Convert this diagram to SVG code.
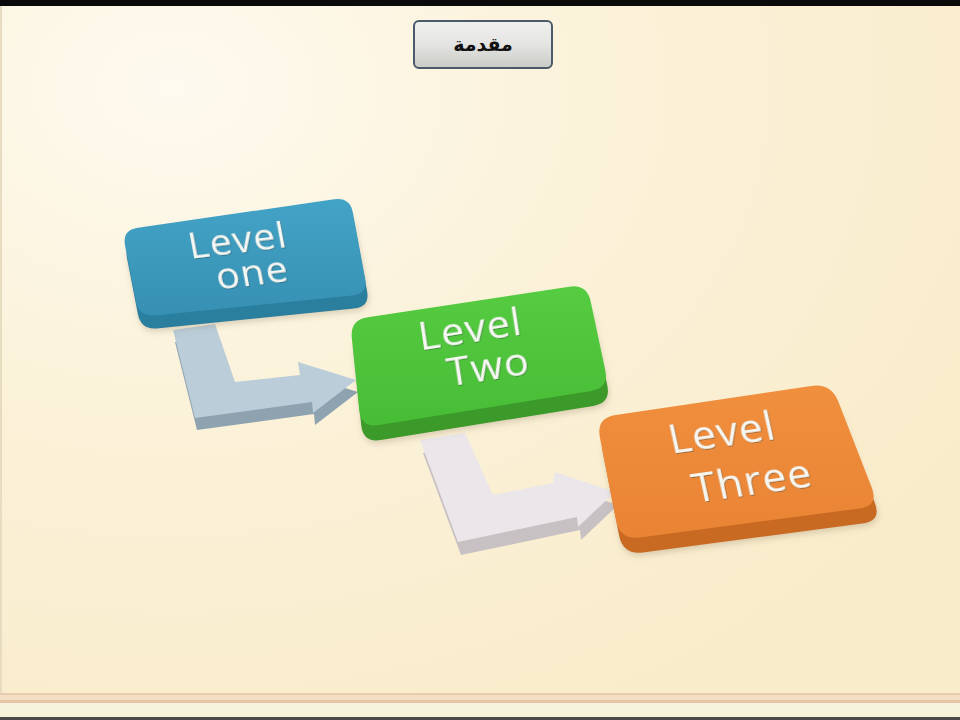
<svg xmlns="http://www.w3.org/2000/svg" width="960" height="720" viewBox="0 0 960 720">
<defs>
<radialGradient id="bg" cx="0.18" cy="0.12" r="0.95">
<stop offset="0" stop-color="#FEFAEF"/>
<stop offset="0.45" stop-color="#FBF2DA"/>
<stop offset="1" stop-color="#F9ECCB"/>
</radialGradient>
<linearGradient id="btn" x1="0" y1="0" x2="0" y2="1">
<stop offset="0" stop-color="#F0F0EE"/>
<stop offset="0.5" stop-color="#E4E4E2"/>
<stop offset="1" stop-color="#CACAC6"/>
</linearGradient>
<linearGradient id="gBlue" x1="0" y1="0" x2="0" y2="1">
<stop offset="0" stop-color="#43A3C6"/>
<stop offset="1" stop-color="#3690B3"/>
</linearGradient>
<linearGradient id="gGreen" x1="0" y1="0" x2="0" y2="1">
<stop offset="0" stop-color="#56CC42"/>
<stop offset="1" stop-color="#47BC35"/>
</linearGradient>
<linearGradient id="gOrange" x1="0" y1="0" x2="0" y2="1">
<stop offset="0" stop-color="#F08F3E"/>
<stop offset="1" stop-color="#E98434"/>
</linearGradient>
<filter id="ts" x="-20%" y="-20%" width="140%" height="140%">
<feDropShadow dx="0.6" dy="0.8" stdDeviation="0.6" flood-color="#2A3A3A" flood-opacity="0.55"/>
</filter>
<filter id="bs" x="-10%" y="-10%" width="120%" height="130%">
<feDropShadow dx="1" dy="3" stdDeviation="3" flood-color="#8A7A5A" flood-opacity="0.3"/>
</filter>
</defs>
<style>
.lbl{font-family:"Open Sans","DejaVu Sans",sans-serif;fill:#F6F7F3;text-anchor:middle;letter-spacing:1px}
.ttl{font-family:"DejaVu Sans","Noto Sans",sans-serif;font-weight:bold;font-size:19px;fill:#111;text-anchor:middle}
</style>
<rect x="0" y="0" width="960" height="720" fill="url(#bg)"/>
<rect x="0" y="0" width="960" height="6" fill="#0A0A0A"/>
<rect x="0" y="693" width="960" height="2" fill="#E6CDAE"/>
<rect x="0" y="695" width="960" height="5" fill="#F4DFC4"/>
<rect x="0" y="700" width="960" height="3" fill="#E3C7A6"/>
<rect x="0" y="703" width="960" height="14" fill="#F6F4DA"/>
<rect x="0" y="717" width="960" height="3" fill="#4A4A48"/>
<rect x="0" y="6" width="2" height="687" fill="#E8DCC0"/>

<g id="title">
<rect x="414" y="21" width="138" height="47" rx="5" fill="url(#btn)" stroke="#4A5A6A" stroke-width="2"/>
<text class="ttl" x="483" y="51">مقدمة</text>
</g>

<g id="connectors">
<g id="arrow-1-2">
<path d="M173,330 L215,324 L235,382 L300,375 L298,362 L356,380 L313,413 L312,402 L195,418 Z" transform="translate(2,12)" fill="#8EA2AF"/>
<path d="M173,330 L215,324 L235,382 L300,375 L298,362 L356,380 L313,413 L312,402 L195,418 Z" fill="#BACDD9"/>
</g>
<g id="arrow-2-3">
<path d="M420,440 L465,433 L493,495 L553,483 L555,472 L615,492 L578,527 L577,517 L458,542 Z" transform="translate(3,13)" fill="#C7C1C4"/>
<path d="M420,440 L465,433 L493,495 L553,483 L555,472 L615,492 L578,527 L577,517 L458,542 Z" fill="#EAE6E9"/>
</g>
</g>

<g id="node-level-one">
<path d="M137.9,227.7 L334.1,199.3 Q350,197 352.9,212.7 L365.1,278.3 Q368,294 352.1,295.6 L154.9,315.4 Q139,317 135.9,301.3 L125.1,245.7 Q122,230 137.9,227.7 Z" transform="translate(2,13)" fill="#2A7E9E" filter="url(#bs)"/>
<path d="M137.9,227.7 L334.1,199.3 Q350,197 352.9,212.7 L365.1,278.3 Q368,294 352.1,295.6 L154.9,315.4 Q139,317 135.9,301.3 L125.1,245.7 Q122,230 137.9,227.7 Z" fill="url(#gBlue)"/>
<g transform="matrix(1,-0.122,0.185,1,122,230)" filter="url(#ts)">
<g transform="translate(111,36) scale(1.08,1)"><text class="lbl" font-size="36">Level</text></g>
<g transform="translate(119.5,70) scale(1.08,1)"><text class="lbl" font-size="36">one</text></g>
</g>
</g>

<g id="node-level-two">
<path d="M367.8,317.3 L569.2,286.7 Q587,284 590.7,301.6 L605.3,370.4 Q609,388 591.2,390.9 L378.8,425.1 Q361,428 359.2,410.1 L351.8,337.9 Q350,320 367.8,317.3 Z" transform="translate(2,15)" fill="#3A9A2B" filter="url(#bs)"/>
<path d="M367.8,317.3 L569.2,286.7 Q587,284 590.7,301.6 L605.3,370.4 Q609,388 591.2,390.9 L378.8,425.1 Q361,428 359.2,410.1 L351.8,337.9 Q350,320 367.8,317.3 Z" fill="url(#gGreen)"/>
<g transform="matrix(1,-0.157,0.151,1,350,320)" filter="url(#ts)">
<g transform="translate(116,41) scale(1.08,1)"><text class="lbl" font-size="38">Level</text></g>
<g transform="translate(128,80) scale(1.08,1)"><text class="lbl" font-size="38">Two</text></g>
</g>
</g>

<g id="node-level-three">
<path d="M615.8,415.1 L811.2,385.9 Q831,383 838.3,401.6 L871.7,487.4 Q879,506 859.2,508.6 L639.8,537.4 Q620,540 616.1,520.4 L599.9,437.6 Q596,418 615.8,415.1 Z" transform="translate(3,15)" fill="#C96A22" filter="url(#bs)"/>
<path d="M615.8,415.1 L811.2,385.9 Q831,383 838.3,401.6 L871.7,487.4 Q879,506 859.2,508.6 L639.8,537.4 Q620,540 616.1,520.4 L599.9,437.6 Q596,418 615.8,415.1 Z" fill="url(#gOrange)"/>
<g transform="matrix(1,-0.14,0.22,1,596,418)" filter="url(#ts)">
<g transform="translate(119,45) scale(1.08,1)"><text class="lbl" font-size="39">Level</text></g>
<g transform="translate(138,96) scale(1.08,1)"><text class="lbl" font-size="39">Three</text></g>
</g>
</g>
</svg>
